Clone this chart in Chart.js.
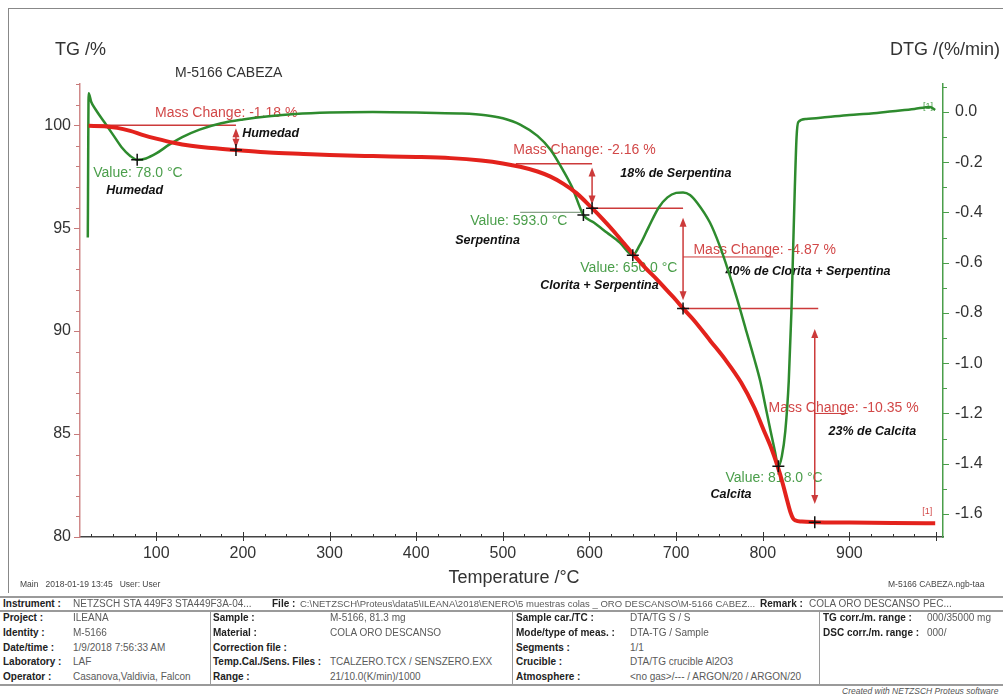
<!DOCTYPE html>
<html><head><meta charset="utf-8">
<script src="https://cdn.jsdelivr.net/npm/chart.js@4.4.1/dist/chart.umd.min.js"></script>
<style>
html,body{margin:0;padding:0;background:#fff;}
#wrap{position:relative;width:1003px;height:695px;overflow:hidden;font-family:"Liberation Sans",Arial,sans-serif;}
#c{position:absolute;left:0;top:0;}
.t{position:absolute;white-space:nowrap;font-size:10px;line-height:12px;color:#5a5a5a;}
.b{font-weight:bold;color:#222;}
.ln{position:absolute;background:#9a9a9a;}
.ft{position:absolute;white-space:nowrap;font-size:8.5px;line-height:10px;color:#444;}
</style></head><body>
<div id="wrap">
<canvas id="c" width="1003" height="597"></canvas>
<div class="ln" style="left:8px;top:8px;width:995px;height:1px;background:#888"></div>
<div class="ln" style="left:8px;top:8px;width:1px;height:585px;background:#888"></div>
<div class="ft" style="left:20px;top:579px">Main&nbsp;&nbsp; 2018-01-19 13:45 &nbsp;&nbsp;User: User</div>
<div class="ft" style="left:888px;top:579px">M-5166 CABEZA.ngb-taa</div>
<div class="ln" style="left:0;top:596px;width:1003px;height:2px"></div>
<div class="ln" style="left:0;top:610px;width:1003px;height:2px"></div>
<div class="ln" style="left:0;top:684px;width:1003px;height:2px"></div>
<div class="ln" style="left:210px;top:612px;width:1px;height:72px"></div>
<div class="ln" style="left:512px;top:612px;width:1px;height:72px"></div>
<div class="ln" style="left:819px;top:612px;width:1px;height:72px"></div>
<div id="tbl"></div>
<div class="ft" style="left:842px;top:686px;font-style:italic;color:#555">Created with NETZSCH Proteus software</div>
</div>
<script>
// ---- data ----
const tgTemp  = [22, 40, 55, 70, 85, 100, 120, 140, 160, 192, 230, 270, 300, 350, 400, 440, 475, 500, 520, 540, 555, 570, 585, 603, 615, 628, 640, 650, 665, 678, 690, 700, 708, 720, 740, 757, 775, 790, 801, 810, 817, 823, 828, 832, 835, 838, 845, 860, 900, 950, 999];
const tgValue = [99.97, 99.95, 99.87, 99.72, 99.52, 99.35, 99.15, 99.0, 98.9, 98.8, 98.67, 98.6, 98.55, 98.5, 98.46, 98.4, 98.28, 98.14, 97.98, 97.75, 97.5, 97.15, 96.7, 95.97, 95.45, 94.85, 94.25, 93.75, 93.05, 92.5, 91.95, 91.5, 91.1, 90.55, 89.5, 88.6, 87.5, 86.3, 85.2, 84.3, 83.45, 82.6, 81.8, 81.2, 80.9, 80.8, 80.75, 80.72, 80.7, 80.68, 80.67];
const dtgTemp  = [21, 22, 25, 30, 40, 50, 60, 70, 78, 88, 100, 115, 130, 150, 175, 200, 230, 260, 300, 350, 400, 450, 480, 500, 520, 540, 555, 570, 580, 593, 605, 620, 635, 650, 658, 668, 680, 690, 700, 708, 716, 724, 739, 750, 760, 770, 780, 790, 797, 803, 809, 814, 818, 822, 826, 830, 833, 835, 837, 839, 841, 850, 875, 900, 925, 950, 975, 993, 999];
const dtgValue = [-0.50, 0.075, 0.04, 0.01, -0.04, -0.09, -0.14, -0.175, -0.19, -0.185, -0.165, -0.13, -0.10, -0.07, -0.045, -0.03, -0.017, -0.008, -0.002, 0.0, -0.002, -0.006, -0.013, -0.025, -0.05, -0.095, -0.15, -0.235, -0.30, -0.41, -0.44, -0.48, -0.52, -0.57, -0.53, -0.46, -0.38, -0.34, -0.322, -0.32, -0.33, -0.36, -0.44, -0.53, -0.63, -0.74, -0.86, -0.98, -1.07, -1.17, -1.27, -1.35, -1.41, -1.37, -1.27, -1.07, -0.80, -0.55, -0.30, -0.10, -0.04, -0.028, -0.02, -0.012, -0.006, 0.003, 0.012, 0.02, 0.008];
const tempTicks = [100, 200, 300, 400, 500, 600, 700, 800, 900];
const tgTicks = [80, 85, 90, 95, 100];
const dtgTicks = [0.0, -0.2, -0.4, -0.6, -0.8, -1.0, -1.2, -1.4, -1.6];
const tgMarkTemp = [192, 603, 708, 860];
const tgMarkValue = [98.8, 95.97, 91.1, 80.72];
const dtgMarkTemp = [78, 593, 650, 818];
const dtgMarkValue = [-0.19, -0.41, -0.57, -1.41];
// mass-change step levels (TG %)
const stepFrom  = [21, 515, 603, 708];
const stepTo    = [192, 603, 708, 864];
const stepLevel = [100.0, 98.13, 95.97, 91.10];
const arrowTemp   = [192, 603, 708, 860];
const arrowTop    = [99.85, 97.95, 95.5, 90.1];
const arrowBottom = [98.9, 96.15, 91.5, 81.6];
// annotation texts: [text, kind, temperature, TG-axis value]
const notes = [
  ["Mass Change: -1.18 %", "m", 98.6, 100.59],
  ["Value: 78.0 °C", "v", 27.3, 97.67],
  ["Humedad", "n", 199.2, 99.61],
  ["Humedad", "n", 42.3, 96.84],
  ["Mass Change: -2.16 %", "m", 512, 98.79],
  ["18% de Serpentina", "n", 635.5, 97.67],
  ["Value: 593.0 °C", "v", 462.4, 95.34],
  ["Serpentina", "n", 445.1, 94.42],
  ["Value: 650.0 °C", "v", 589.4, 93.06],
  ["Clorita + Serpentina", "n", 543.2, 92.19],
  ["Mass Change: -4.87 %", "m", 720, 93.93],
  ["40% de Clorita + Serpentina", "n", 757, 92.91],
  ["Mass Change: -10.35 %", "m", 806.6, 86.26],
  ["23% de Calcita", "n", 875.9, 85.14],
  ["Value: 818.0 °C", "v", 757, 82.86],
  ["Calcita", "n", 739.7, 82.08],
  ["[1]", "tr", 984, 81.25],
  ["[1]", "tg", 985, 100.92]
];
const leaders = [[708, 812, 93.6], [860, 898, 86.0]];
const valueLeader = [520, 590, 95.77];

// ---- table ----
const tblRows = [
  [[3,"Instrument :",1],[73,"NETZSCH STA 449F3 STA449F3A-04...",0],[272,"File :",1],[300,"C:\\NETZSCH\\Proteus\\data5\\ILEANA\\2018\\ENERO\\5 muestras colas _ ORO DESCANSO\\M-5166 CABEZ...",0,9.5],[760,"Remark :",1],[809,"COLA ORO DESCANSO PEC...",0]],
  [[3,"Project :",1],[73,"ILEANA",0],[213,"Sample :",1],[330,"M-5166, 81.3 mg",0],[516,"Sample car./TC :",1],[630,"DTA/TG S / S",0],[823,"TG corr./m. range :",1],[927,"000/35000 mg",0]],
  [[3,"Identity :",1],[73,"M-5166",0],[213,"Material :",1],[330,"COLA ORO DESCANSO",0],[516,"Mode/type of meas. :",1],[630,"DTA-TG / Sample",0],[823,"DSC corr./m. range :",1],[927,"000/",0]],
  [[3,"Date/time :",1],[73,"1/9/2018 7:56:33 AM",0],[213,"Correction file :",1],[516,"Segments :",1],[630,"1/1",0]],
  [[3,"Laboratory :",1],[73,"LAF",0],[213,"Temp.Cal./Sens. Files :",1],[330,"TCALZERO.TCX / SENSZERO.EXX",0],[516,"Crucible :",1],[630,"DTA/TG crucible Al2O3",0]],
  [[3,"Operator :",1],[73,"Casanova,Valdivia, Falcon",0],[213,"Range :",1],[330,"21/10.0(K/min)/1000",0],[516,"Atmosphere :",1],[630,"<no gas>/--- / ARGON/20 / ARGON/20",0]]
];
const rowY = [598, 612, 627, 642, 656, 671];
const tbl = document.getElementById('tbl');
tblRows.forEach((r, i) => r.forEach(c => {
  const s = document.createElement('div');
  s.className = 't' + (c[2] ? ' b' : '');
  s.style.left = c[0] + 'px'; s.style.top = rowY[i] + 'px';
  if (c[3]) s.style.fontSize = c[3] + 'px';
  s.textContent = c[1];
  tbl.appendChild(s);
}));

// ---- chart ----
const FONT = '"Liberation Sans", Arial, sans-serif';
const RED = '#e3221c', GREEN = '#2e8b2e';
const RED_A = '#d24848', GREEN_A = '#4a9e4a';

function pairs(a, b) { return a.map((v, i) => ({x: v, y: b[i]})); }

const annot = {
  id: 'annot',
  beforeDatasetsDraw(chart) {
    const ctx = chart.ctx, xs = chart.scales.x, ys = chart.scales.yTG, yd = chart.scales.yDTG;
    const a = chart.chartArea;
    const X = v => xs.getPixelForValue(v), Y = v => ys.getPixelForValue(v), YD = v => yd.getPixelForValue(v);
    ctx.save();
    // ticks
    ctx.lineWidth = 1;
    ctx.strokeStyle = '#c77a7a';
    for (let v = 80; v <= 102; v++) {
      const y = Math.round(Y(v)) + 0.5, len = v % 5 === 0 ? 6 : 4;
      ctx.beginPath(); ctx.moveTo(a.left - len, y); ctx.lineTo(a.left, y); ctx.stroke();
    }
    ctx.strokeStyle = '#4a9e4a';
    for (let k = -16; k <= 1; k++) {
      const y = Math.round(YD(k / 10)) + 0.5, len = k % 2 === 0 ? 6 : 4;
      ctx.beginPath(); ctx.moveTo(a.right, y); ctx.lineTo(a.right + len, y); ctx.stroke();
    }
    ctx.strokeStyle = '#333';
    for (let t = 25; t <= 1000; t += 25) {
      const x = Math.round(X(t)) + 0.5;
      ctx.beginPath();
      if (t % 100 === 0) { ctx.moveTo(x, a.bottom - 5); ctx.lineTo(x, a.bottom + 4); }
      else { ctx.moveTo(x, a.bottom - 3); ctx.lineTo(x, a.bottom); }
      ctx.stroke();
    }
    // texts
    notes.forEach(n => {
      const [txt, kind, t, v] = n;
      if (kind === 'm') { ctx.fillStyle = RED_A; ctx.font = '14px ' + FONT; }
      else if (kind === 'v') { ctx.fillStyle = GREEN_A; ctx.font = '14px ' + FONT; }
      else if (kind === 'n') { ctx.fillStyle = '#111'; ctx.font = 'italic bold 12.5px ' + FONT; }
      else if (kind === 'tr') { ctx.fillStyle = RED_A; ctx.font = '9px ' + FONT; }
      else { ctx.fillStyle = GREEN_A; ctx.font = '9px ' + FONT; }
      ctx.textAlign = 'left'; ctx.textBaseline = 'middle';
      ctx.fillText(txt, X(t), Y(v));
    });
    // step lines
    ctx.strokeStyle = '#cc3a3a'; ctx.lineWidth = 1.5;
    stepLevel.forEach((lv, i) => {
      const y = Y(lv);
      ctx.beginPath(); ctx.moveTo(X(stepFrom[i]), y); ctx.lineTo(X(stepTo[i]), y); ctx.stroke();
    });
    ctx.lineWidth = 1;
    leaders.forEach(l => {
      const y = Y(l[2]);
      ctx.beginPath(); ctx.moveTo(X(l[0]), y); ctx.lineTo(X(l[1]), y); ctx.stroke();
    });
    ctx.strokeStyle = '#6a8a6a';
    ctx.beginPath(); ctx.moveTo(X(valueLeader[0]), Y(valueLeader[2])); ctx.lineTo(X(valueLeader[1]), Y(valueLeader[2])); ctx.stroke();
    // arrows
    ctx.strokeStyle = '#cc3a3a'; ctx.fillStyle = '#cc3a3a'; ctx.lineWidth = 1.5;
    arrowTemp.forEach((t, i) => {
      const x = X(t), y1 = Y(arrowTop[i]), y2 = Y(arrowBottom[i]);
      ctx.beginPath(); ctx.moveTo(x, y1 + 4); ctx.lineTo(x, y2 - 4); ctx.stroke();
      ctx.beginPath(); ctx.moveTo(x, y1); ctx.lineTo(x - 3.5, y1 + 9); ctx.lineTo(x + 3.5, y1 + 9); ctx.closePath(); ctx.fill();
      ctx.beginPath(); ctx.moveTo(x, y2); ctx.lineTo(x - 3.5, y2 - 9); ctx.lineTo(x + 3.5, y2 - 9); ctx.closePath(); ctx.fill();
    });
    ctx.restore();
  },
  afterDraw(chart) {
    const ctx = chart.ctx;
    ctx.save();
    ctx.fillStyle = '#333'; ctx.textBaseline = 'middle';
    ctx.font = '18px ' + FONT;
    ctx.textAlign = 'left'; ctx.fillText('TG /%', 55, 50);
    ctx.textAlign = 'right'; ctx.fillText('DTG /(%/min)', 1000, 50);
    ctx.textAlign = 'center'; ctx.fillText('Temperature /°C', 514, 578);
    ctx.font = '14px ' + FONT; ctx.textAlign = 'left';
    ctx.fillText('M-5166 CABEZA', 175, 73);
    ctx.restore();
  }
};

const tickFont = {size: 16, family: FONT};
new Chart(document.getElementById('c'), {
  type: 'line',
  data: {
    datasets: [
      {data: pairs(tgMarkTemp, tgMarkValue), yAxisID: 'yTG', showLine: false, pointStyle: 'cross', pointRadius: 6, pointBorderWidth: 1.5, pointBorderColor: '#111', order: 0},
      {data: pairs(dtgMarkTemp, dtgMarkValue), yAxisID: 'yDTG', showLine: false, pointStyle: 'cross', pointRadius: 6, pointBorderWidth: 1.5, pointBorderColor: '#111', order: 0},
      {data: pairs(tgTemp, tgValue), yAxisID: 'yTG', borderColor: RED, borderWidth: 4, pointRadius: 0, cubicInterpolationMode: 'monotone', order: 1},
      {data: pairs(dtgTemp, dtgValue), yAxisID: 'yDTG', borderColor: GREEN, borderWidth: 2.5, pointRadius: 0, cubicInterpolationMode: 'monotone', order: 2}
    ]
  },
  options: {
    responsive: false, animation: false,
    layout: {padding: {top: 84, left: 0, right: 0, bottom: 0}},
    plugins: {legend: {display: false}, tooltip: {enabled: false}},
    scales: {
      x: {
        type: 'linear', position: 'bottom', min: 12, max: 1008,
        afterBuildTicks: s => { s.ticks = tempTicks.map(v => ({value: v})); },
        afterFit: s => { s.height = 60; },
        grid: {display: false, drawTicks: false, tickLength: 0},
        border: {display: true, color: '#444', width: 1.5},
        ticks: {padding: 7, color: '#333', font: tickFont, maxRotation: 0, autoSkip: false}
      },
      yTG: {
        type: 'linear', position: 'left', min: 80, max: 102,
        afterBuildTicks: s => { s.ticks = tgTicks.map(v => ({value: v})); },
        afterFit: s => { s.width = 80; },
        grid: {display: false, drawTicks: false, tickLength: 0},
        border: {display: true, color: '#d08a8a', width: 1.5},
        ticks: {padding: 9, color: '#333', font: tickFont}
      },
      yDTG: {
        type: 'linear', position: 'right', min: -1.6916, max: 0.1114,
        afterBuildTicks: s => { s.ticks = dtgTicks.map(v => ({value: v})); },
        afterFit: s => { s.width = 60; },
        grid: {display: false, drawTicks: false, tickLength: 0},
        border: {display: true, color: '#4a9e4a', width: 1.5},
        ticks: {padding: 12, color: '#333', font: tickFont, callback: v => Number(v).toFixed(1)}
      }
    }
  },
  plugins: [annot]
});
</script>
</body></html>
